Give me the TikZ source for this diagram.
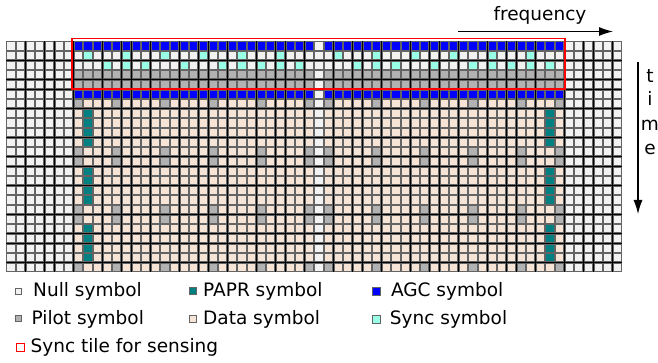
\documentclass[tikz,border=0pt]{standalone}
\usepackage{fontspec}
\setmainfont{DejaVu Sans}
\usetikzlibrary{arrows.meta}
\definecolor{nullc}{RGB}{242,242,242}
\definecolor{pilotc}{RGB}{178,178,178}
\definecolor{paprc}{RGB}{0,128,128}
\definecolor{datac}{RGB}{246,228,214}
\definecolor{agcc}{RGB}{0,0,255}
\definecolor{syncc}{RGB}{153,255,230}
\definecolor{cellborder}{RGB}{100,100,100}
\newcommand{\gcell}[3]{\path[cellbox,fill=#1] ({6+9.625*(#2)+0.75},{41+9.625*(#3)+0.75}) rectangle ++(8.125,8.125);}
\begin{document}
\begin{tikzpicture}[x=1pt,y=-1pt,
  cellbox/.style={draw=cellborder,line width=0.7pt},
  keybox/.style={draw=cellborder,line width=0.6pt},
  lbl/.style={font=\fontsize{18.5}{22}\selectfont,inner sep=0pt,anchor=base west},
  axlbl/.style={font=\fontsize{18.5}{22}\selectfont,inner sep=0pt,anchor=base},
  axarrow/.style={line width=1.2pt,-{Latex[length=14pt,width=9pt]}}]
\useasboundingbox (0,0) rectangle (658,363);
% grid background
\fill[black] (6,41) rectangle (622,272);
% null cells everywhere
\foreach \r in {0,...,23}{\foreach \c in {0,...,63}{\gcell{nullc}{\c}{\r}}}
% data region
\foreach \r in {6,...,23}{\foreach \c in {7,...,57}{\ifnum\c=32\else\gcell{datac}{\c}{\r}\fi}}
% AGC rows
\foreach \r in {0,5}{\foreach \c in {7,...,57}{\ifnum\c=32\else\gcell{agcc}{\c}{\r}\fi}}
% pilot rows in the sync tile
\foreach \r in {3,4}{\foreach \c in {7,...,57}{\ifnum\c=32\else\gcell{pilotc}{\c}{\r}\fi}}
% sync symbols
\foreach \c in {8,12,16,20,24,28,34,38,42,46,50,54}{\gcell{syncc}{\c}{1}}
\foreach \c in {10,12,14,18,22,24,26,28,30,36,38,40,44,48,50,52,54,56}{\gcell{syncc}{\c}{2}}
% scattered pilots
\foreach \r in {6,11,12,17,18,23}{\foreach \c in {7,11,16,21,26,31,33,38,43,48,53,57}{\gcell{pilotc}{\c}{\r}}}
% PAPR
\foreach \r in {7,8,9,10,13,14,15,16,19,20,21,22}{\foreach \c in {8,56}{\gcell{paprc}{\c}{\r}}}
% sync tile outline
\draw[red,line width=1.4pt] (72,38.6) rectangle (565,89.2);
% frequency axis
\coordinate (fa) at (458,31.5);
\coordinate (fb) at (613,31.5);
\draw[axarrow] (fa) -- (fb);
\node[axlbl] (freq) at (540,21) {frequency};
% time axis
\coordinate (ta) at (638,62);
\coordinate (tb) at (638,214);
\draw[axarrow] (ta) -- (tb);
\node[axlbl] (tt) at (650,83) {t};
\node[axlbl] (ti) at (650,106) {i};
\node[axlbl] (tm) at (650,130.5) {m};
\node[axlbl] (te) at (650,155) {e};
% legend
\path[keybox,fill=nullc] (15.5,288) rectangle ++(6,6);
\node[lbl] (lnull) at (33,296.7) {Null symbol};
\path[keybox,fill=pilotc] (15.5,315.5) rectangle ++(6,6);
\node[lbl] (lpilot) at (31.4,324.3) {Pilot symbol};
\draw[red,line width=0.9pt] (16.5,343.5) rectangle ++(8,8);
\node[lbl] (ltile) at (30.4,352.3) {Sync tile for sensing};
\path[keybox,fill=paprc] (189.5,287.5) rectangle ++(7,7);
\node[lbl] (lpapr) at (203,296.7) {PAPR symbol};
\path[keybox,fill=datac] (189.5,315) rectangle ++(7,7);
\node[lbl] (ldata) at (203,324.3) {Data symbol};
\path[keybox,fill=agcc] (372,287.3) rectangle ++(8,8);
\node[lbl] (lagc) at (390.8,296.7) {AGC symbol};
\path[keybox,fill=syncc] (372,314.8) rectangle ++(8,8);
\node[lbl] (lsync) at (389.7,324.3) {Sync symbol};
\end{tikzpicture}
\end{document}
